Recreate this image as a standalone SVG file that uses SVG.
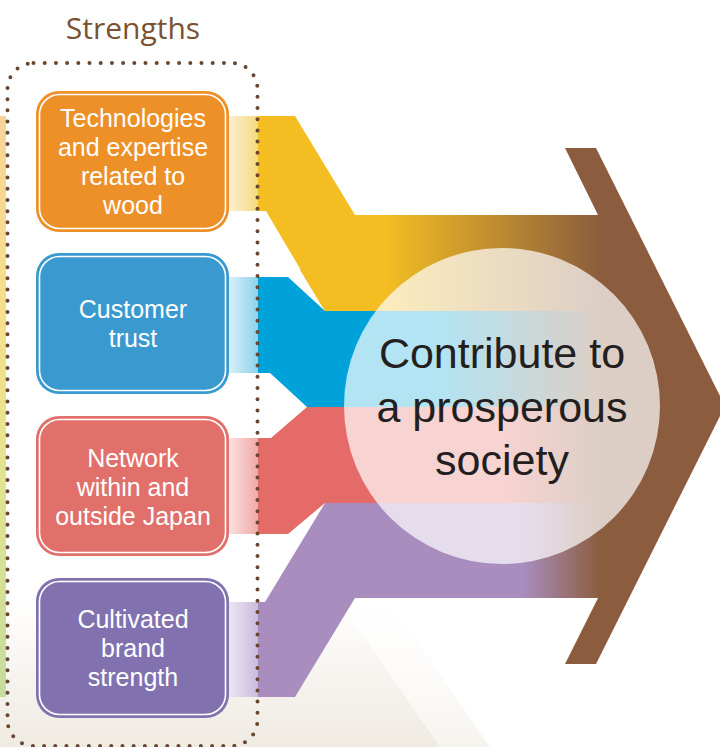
<svg xmlns="http://www.w3.org/2000/svg" width="720" height="747" viewBox="0 0 720 747">
<defs>
<style>
.box-text{font-family:"Liberation Sans",Arial,sans-serif;font-size:25px;fill:#ffffff;text-anchor:middle}
.center-text{font-family:"Liberation Sans",Arial,sans-serif;font-size:43px;fill:#231f20;text-anchor:middle}
.title{font-family:"Open Sans","Noto Sans",sans-serif;font-size:30px;fill:#7a5132;text-anchor:middle}
.inner{fill:none;stroke:#ffffff;stroke-width:1.6}
</style>
<linearGradient id="gStrip" x1="0" y1="116" x2="0" y2="697" gradientUnits="userSpaceOnUse">
<stop offset="0" stop-color="#f8d398"/>
<stop offset="0.35" stop-color="#f6e08a"/>
<stop offset="0.6" stop-color="#e3e48f"/>
<stop offset="1" stop-color="#c6dc9c"/>
</linearGradient>
<linearGradient id="gBgA" x1="0" y1="598" x2="0" y2="747" gradientUnits="userSpaceOnUse">
<stop offset="0" stop-color="#f7f5f0" stop-opacity="0"/>
<stop offset="0.45" stop-color="#f4f1eb" stop-opacity="0.6"/>
<stop offset="1" stop-color="#efebe3"/>
</linearGradient>
<linearGradient id="gBgB" x1="0" y1="598" x2="0" y2="747" gradientUnits="userSpaceOnUse">
<stop offset="0" stop-color="#fbfaf7" stop-opacity="0"/>
<stop offset="1" stop-color="#f6f4ef"/>
</linearGradient>
<linearGradient id="gY" x1="385" y1="0" x2="600" y2="0" gradientUnits="userSpaceOnUse">
<stop offset="0" stop-color="#f4be22"/>
<stop offset="1" stop-color="#8b5d3e"/>
</linearGradient>
<linearGradient id="gB" x1="440" y1="0" x2="600" y2="0" gradientUnits="userSpaceOnUse">
<stop offset="0" stop-color="#00a3d9"/>
<stop offset="1" stop-color="#8b5d3e"/>
</linearGradient>
<linearGradient id="gR" x1="505" y1="0" x2="600" y2="0" gradientUnits="userSpaceOnUse">
<stop offset="0" stop-color="#e56b68"/>
<stop offset="1" stop-color="#8b5d3e"/>
</linearGradient>
<linearGradient id="gP" x1="523" y1="0" x2="600" y2="0" gradientUnits="userSpaceOnUse">
<stop offset="0" stop-color="#a98dbf"/>
<stop offset="1" stop-color="#8b5d3e"/>
</linearGradient>
<linearGradient id="gYl" x1="228" y1="0" x2="258" y2="0" gradientUnits="userSpaceOnUse">
<stop offset="0" stop-color="#fbf0d2"/>
<stop offset="1" stop-color="#f6da80"/>
</linearGradient>
<linearGradient id="gBl" x1="228" y1="0" x2="258" y2="0" gradientUnits="userSpaceOnUse">
<stop offset="0" stop-color="#daf0f9"/>
<stop offset="1" stop-color="#8fd2ee"/>
</linearGradient>
<linearGradient id="gRl" x1="228" y1="0" x2="258" y2="0" gradientUnits="userSpaceOnUse">
<stop offset="0" stop-color="#fbe3e2"/>
<stop offset="1" stop-color="#efa9a7"/>
</linearGradient>
<linearGradient id="gPl" x1="228" y1="0" x2="258" y2="0" gradientUnits="userSpaceOnUse">
<stop offset="0" stop-color="#ede6f3"/>
<stop offset="1" stop-color="#cbbbdb"/>
</linearGradient>
</defs>

<rect width="720" height="747" fill="#ffffff"/>

<g id="background">
<polygon points="0,598 387,598 490,747 0,747" fill="url(#gBgB)"/>
<polygon points="0,598 337,598 440,747 0,747" fill="url(#gBgA)"/>
<rect x="0" y="116" width="6" height="581" fill="url(#gStrip)"/>
</g>

<g id="outcome-arrow">
<polygon points="565,148 596,148 725,406 596,664 565,664 598,598 598,215" fill="#8b5d3e"/>
</g>

<g id="connectors">
<rect x="228" y="116" width="30" height="95" fill="url(#gYl)"/>
<polygon points="258,116 295,116 355,215 600,215 600,311 325,311 266,211 258,211" fill="#f4be22"/>
<polygon points="355,215 600,215 600,311 325,311 300,270" fill="url(#gY)"/>

<rect x="228" y="277" width="30" height="96" fill="url(#gBl)"/>
<polygon points="258,277 288,277 325,311 600,311 600,407 307,407 270,373 258,373" fill="#00a3d9"/>
<rect x="325" y="311" width="275" height="96" fill="url(#gB)"/>

<rect x="228" y="438" width="30" height="96" fill="url(#gRl)"/>
<polygon points="258,438 271,438 307,407 600,407 600,503 325,503 288,534 258,534" fill="#e56b68"/>
<rect x="325" y="407" width="275" height="96" fill="url(#gR)"/>

<rect x="228" y="602" width="30" height="95" fill="url(#gPl)"/>
<polygon points="258,602 265,602 325,503 600,503 600,598 355,598 295,697 258,697" fill="#a98dbf"/>
<rect x="355" y="503" width="245" height="95" fill="url(#gP)"/>
</g>

<g id="group-frame">
<rect x="7.5" y="63" width="250" height="683" rx="26" fill="none" stroke="#6a4630" stroke-width="4" stroke-linecap="round" stroke-dasharray="0 11.2"/>
</g>

<g id="title">
<text class="title" x="133" y="39">Strengths</text>
</g>

<g id="node-technologies">
<rect x="36" y="91" width="193" height="141" rx="23" fill="#ed9027"/>
<rect x="39.5" y="94.5" width="186" height="134" rx="20" class="inner"/>
<text class="box-text" x="133" y="127">Technologies</text>
<text class="box-text" x="133" y="156">and expertise</text>
<text class="box-text" x="133" y="185">related to</text>
<text class="box-text" x="133" y="214">wood</text>
</g>

<g id="node-customer-trust">
<rect x="36" y="253" width="193" height="141" rx="23" fill="#3a9ad0"/>
<rect x="39.5" y="256.5" width="186" height="134" rx="20" class="inner"/>
<text class="box-text" x="133" y="318">Customer</text>
<text class="box-text" x="133" y="347">trust</text>
</g>

<g id="node-network">
<rect x="36" y="416" width="193" height="140" rx="23" fill="#e2706a"/>
<rect x="39.5" y="419.5" width="186" height="133" rx="20" class="inner"/>
<text class="box-text" x="133" y="467">Network</text>
<text class="box-text" x="133" y="496">within and</text>
<text class="box-text" x="133" y="525">outside Japan</text>
</g>

<g id="node-brand">
<rect x="36" y="578" width="193" height="140" rx="23" fill="#8172af"/>
<rect x="39.5" y="581.5" width="186" height="133" rx="20" class="inner"/>
<text class="box-text" x="133" y="628">Cultivated</text>
<text class="box-text" x="133" y="657">brand</text>
<text class="box-text" x="133" y="686">strength</text>
</g>

<g id="node-goal">
<circle cx="502" cy="406" r="158" fill="#ffffff" fill-opacity="0.7"/>
<text class="center-text" x="502" y="368">Contribute to</text>
<text class="center-text" x="502" y="422">a prosperous</text>
<text class="center-text" x="502" y="475">society</text>
</g>
</svg>
